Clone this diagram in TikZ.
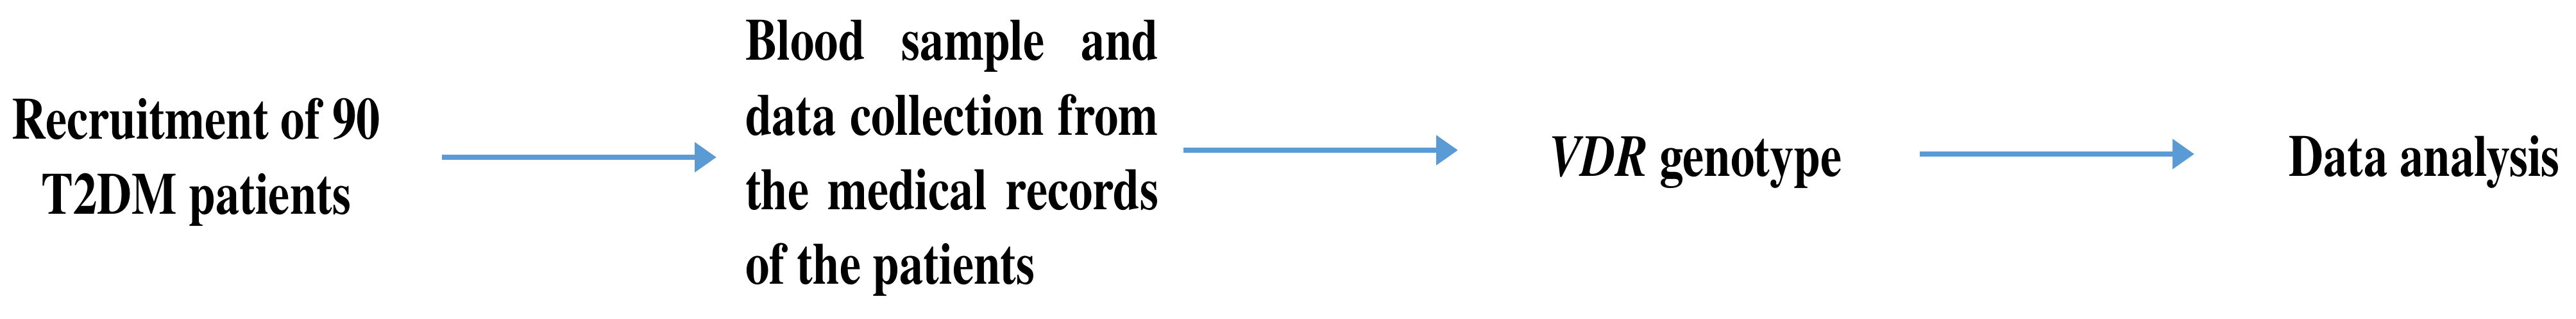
\documentclass[tikz,border=0pt]{standalone}
\usepackage{fontspec}
\setmainfont{TeX Gyre Termes}[FakeStretch=0.81]
\usetikzlibrary{arrows.meta}
\definecolor{flowblue}{HTML}{5B9BD5}

\begin{document}
\begin{tikzpicture}[
    stage/.style={inner sep=0pt, font=\fontsize{26.2}{33.1}\selectfont\bfseries},
    flow/.style={line width=2.4pt, flowblue, -{Triangle[length=3.4mm, width=4.5mm]}}
  ]
    \useasboundingbox (0,0) rectangle (40.16,4.97);

    % Draw stages
    \node[stage, align=center] (recruit) at (3.06, 2.445) {Recruitment of 90\\T2DM patients};
    \node[stage, text width=6.44cm, align=justify] (collect) at (14.84, 2.505)
        {Blood sample and\linebreak data collection from\linebreak the medical records\linebreak of the patients};
    \node[stage, anchor=base west] (genotype) at (24.15, 2.22) {\textit{VDR} genotype};
    \node[stage, anchor=base west] (analysis) at (35.68, 2.22) {Data analysis};

    \coordinate (flow1a) at (6.89, 2.52);
    \coordinate (flow1b) at (11.17, 2.52);
    \coordinate (flow2a) at (18.45, 2.63);
    \coordinate (flow2b) at (22.73, 2.63);
    \coordinate (flow3a) at (29.93, 2.57);
    \coordinate (flow3b) at (34.21, 2.57);

    % Draw arrows
    \draw[flow] (flow1a) -- (flow1b);
    \draw[flow] (flow2a) -- (flow2b);
    \draw[flow] (flow3a) -- (flow3b);

\end{tikzpicture}
\end{document}
